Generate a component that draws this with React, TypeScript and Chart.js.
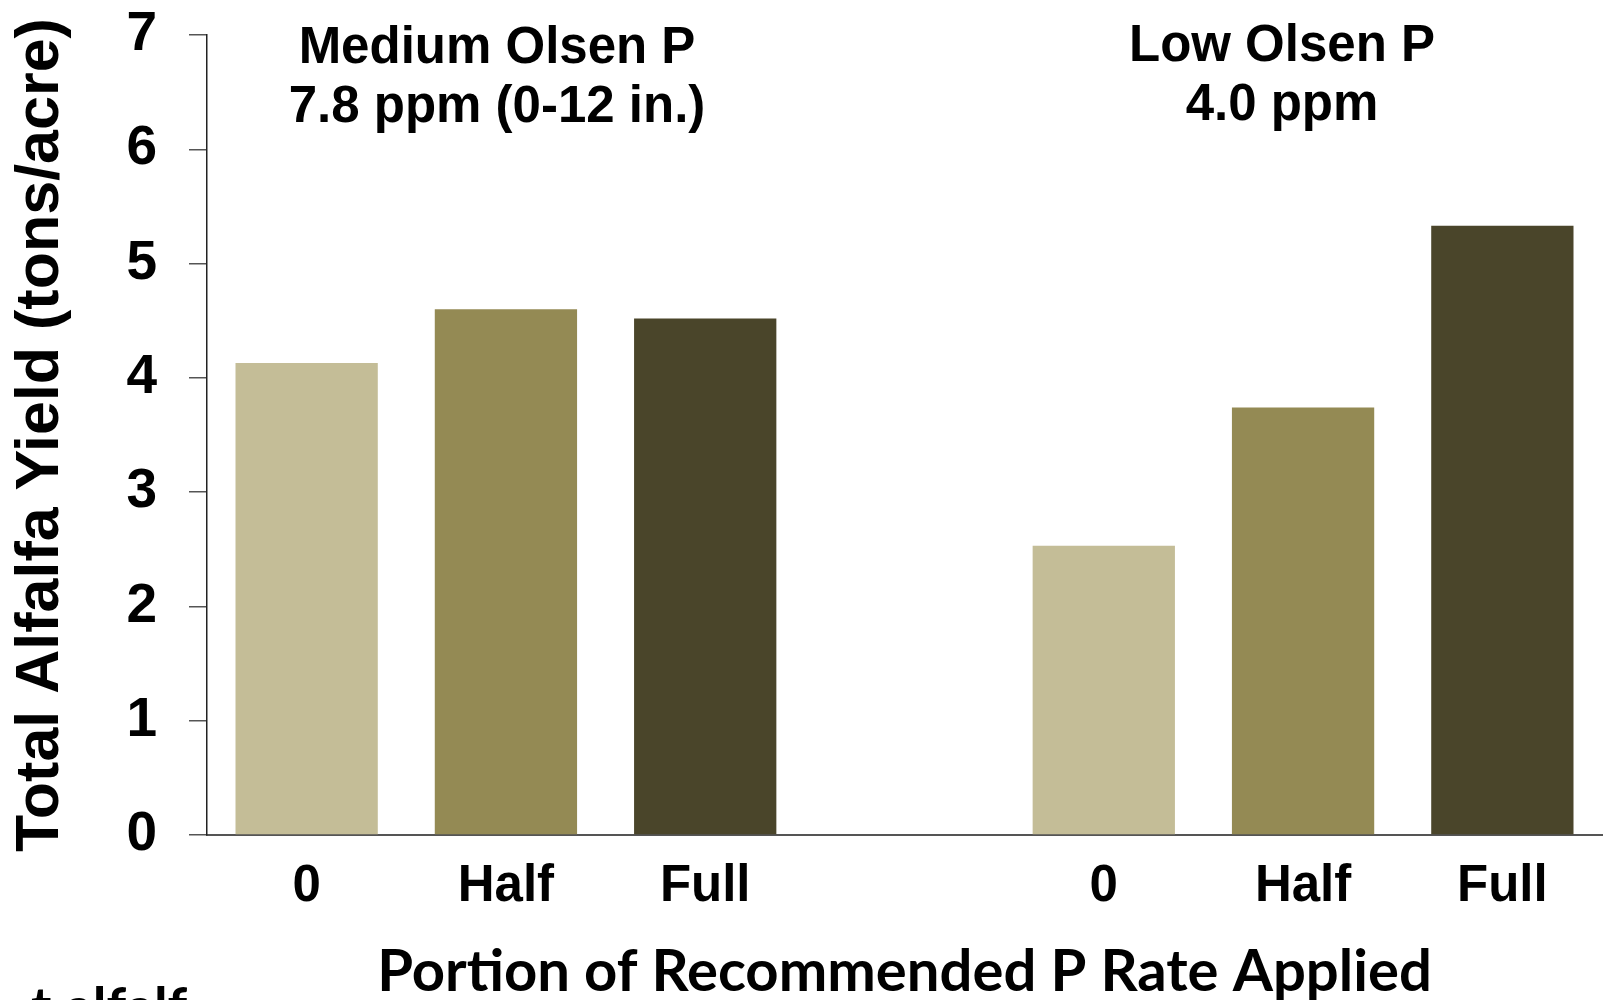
import React, { useEffect, useRef } from 'react';
import { Chart, registerables } from 'chart.js';

Chart.register(...registerables);

// ---- data ----
const categories = ['0', 'Half', 'Full', '', '0', 'Half', 'Full'];
const mediumYield = [4.13, 4.6, 4.52];
const lowYield = [2.53, 3.74, 5.33];
const rateColors = ['#C4BD97', '#948A54', '#4A452A'];
const yMin = 0;
const yMax = 7;
const yStep = 1;
const mediumTitle = ['Medium Olsen P', '7.8 ppm (0-12 in.)'];
const lowTitle = ['Low Olsen P', '4.0 ppm'];
const yTitle = 'Total Alfalfa Yield (tons/acre)';
const xTitle = 'Portion of Recommended P Rate Applied';
const footText = 't alfalf';

const W = 1605;
const H = 1000;
const ARIAL = '"Liberation Sans", Arial, sans-serif';

export default function App() {
  const ref = useRef<HTMLCanvasElement | null>(null);

  useEffect(() => {
    const canvas = ref.current;
    if (!canvas) return;
    const values = [...mediumYield, null, ...lowYield];
    const colors = [...rateColors, rateColors[0], ...rateColors];

    const titlePlugin = {
      id: 'groupTitles',
      afterDraw(chart: any) {
        const ctx = chart.ctx;
        ctx.save();
        ctx.fillStyle = '#000';
        ctx.textAlign = 'center';
        ctx.textBaseline = 'alphabetic';
        ctx.font = `bold 51px ${ARIAL}`;
        ctx.fillText(mediumTitle[0], 497, 63);
        ctx.fillText(mediumTitle[1], 497, 122);
        ctx.fillText(lowTitle[0], 1282, 61);
        ctx.fillText(lowTitle[1], 1282, 120);
        ctx.textAlign = 'left';
        ctx.font = 'bold 55px Lato, sans-serif';
        ctx.fillText(footText, 31, 1027);
        ctx.restore();
      },
    };

    const chart = new Chart(canvas, {
      type: 'bar',
      data: {
        labels: categories,
        datasets: [
          {
            data: values as any,
            backgroundColor: colors,
            borderWidth: 0,
            barPercentage: 0.714,
            categoryPercentage: 1,
          },
        ],
      },
      options: {
        animation: false,
        responsive: false,
        devicePixelRatio: 1,
        layout: { padding: { left: 0, right: 3, top: 35, bottom: 0 } },
        plugins: {
          legend: { display: false },
          tooltip: { enabled: false },
          title: { display: false },
        },
        scales: {
          x: {
            grid: { display: false, drawTicks: false },
            border: { display: true, color: '#555', width: 2 },
            ticks: {
              color: '#000',
              padding: 21,
              font: { family: ARIAL, size: 51, weight: 'bold' },
              maxRotation: 0,
              autoSkip: false,
            },
            title: {
              display: true,
              text: xTitle,
              color: '#000',
              font: { family: 'Lato, sans-serif', size: 58, weight: 'bold', lineHeight: 1 },
              padding: { top: 0, bottom: -1 },
            },
            afterFit(scale: any) {
              scale.height = 165;
              scale.paddingLeft = 0;
              scale.paddingRight = 0;
            },
          },
          y: {
            min: yMin,
            max: yMax,
            grid: {
              display: true,
              drawOnChartArea: false,
              drawTicks: true,
              tickLength: 18,
              color: '#555',
              lineWidth: 1.5,
            },
            border: { display: true, color: '#222', width: 1.5 },
            ticks: {
              stepSize: yStep,
              color: '#000',
              padding: 32,
              font: { family: ARIAL, size: 55, weight: 'bold' },
            },
            title: {
              display: true,
              text: yTitle,
              color: '#000',
              font: { family: ARIAL, size: 61, weight: 'bold' },
              padding: { top: 5, bottom: 0 },
            },
            afterFit(scale: any) {
              scale.width = 207;
              scale.paddingTop = 0;
              scale.paddingBottom = 0;
            },
          },
        },
      },
      plugins: [titlePlugin],
    });

    return () => chart.destroy();
  }, []);

  return (
    <div style={{ position: 'absolute', left: 0, top: 0, width: W, height: H, background: '#fff' }}>
      <canvas ref={ref} width={W} height={H} style={{ display: 'block' }} />
    </div>
  );
}
